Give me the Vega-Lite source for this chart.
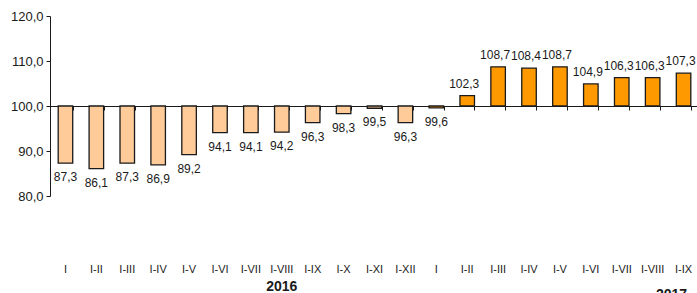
{
  "$schema": "https://vega.github.io/schema/vega-lite/v6.json",
  "width": 649,
  "height": 180,
  "autosize": {"type": "none"},
  "padding": {"left": 50, "top": 16, "right": 0, "bottom": 97},
  "background": "white",
  "config": {
    "view": {"stroke": null},
    "font": "Liberation Sans",
    "locale": {"number": {"decimal": ",", "thousands": ".", "grouping": [3], "currency": ["", " €"]}}
  },
  "data": {
    "values": [
      {"k": "2016 I", "year": "2016", "value": 87.3},
      {"k": "2016 I-II", "year": "2016", "value": 86.1},
      {"k": "2016 I-III", "year": "2016", "value": 87.3},
      {"k": "2016 I-IV", "year": "2016", "value": 86.9},
      {"k": "2016 I-V", "year": "2016", "value": 89.2},
      {"k": "2016 I-VI", "year": "2016", "value": 94.1},
      {"k": "2016 I-VII", "year": "2016", "value": 94.1},
      {"k": "2016 I-VIII", "year": "2016", "value": 94.2},
      {"k": "2016 I-IX", "year": "2016", "value": 96.3},
      {"k": "2016 I-X", "year": "2016", "value": 98.3},
      {"k": "2016 I-XI", "year": "2016", "value": 99.5},
      {"k": "2016 I-XII", "year": "2016", "value": 96.3},
      {"k": "2017 I", "year": "2017", "value": 99.6},
      {"k": "2017 I-II", "year": "2017", "value": 102.3},
      {"k": "2017 I-III", "year": "2017", "value": 108.7},
      {"k": "2017 I-IV", "year": "2017", "value": 108.4},
      {"k": "2017 I-V", "year": "2017", "value": 108.7},
      {"k": "2017 I-VI", "year": "2017", "value": 104.9},
      {"k": "2017 I-VII", "year": "2017", "value": 106.3},
      {"k": "2017 I-VIII", "year": "2017", "value": 106.3},
      {"k": "2017 I-IX", "year": "2017", "value": 107.3}
    ]
  },
  "resolve": {"axis": {"x": "independent"}},
  "layer": [
    {
      "mark": {"type": "bar", "stroke": "#1a1a1a", "strokeWidth": 1.3},
      "encoding": {
        "x": {
          "field": "k", "type": "nominal",
          "scale": {
            "domain": ["2016 I", "2016 I-II", "2016 I-III", "2016 I-IV", "2016 I-V", "2016 I-VI", "2016 I-VII", "2016 I-VIII", "2016 I-IX", "2016 I-X", "2016 I-XI", "2016 I-XII", "2017 I", "2017 I-II", "2017 I-III", "2017 I-IV", "2017 I-V", "2017 I-VI", "2017 I-VII", "2017 I-VIII", "2017 I-IX"],
            "paddingInner": 0.53, "paddingOuter": 0.265
          },
          "axis": {
            "title": null, "orient": "bottom", "domain": false, "ticks": false,
            "labelPadding": 67, "labelAngle": 0, "labelFontSize": 11, "labelColor": "#1a1a1a",
            "labelExpr": "split(datum.value, ' ')[1]"
          }
        },
        "y": {
          "field": "value", "type": "quantitative",
          "scale": {"domain": [80, 120], "zero": false, "nice": false},
          "axis": {
            "title": null, "grid": false, "values": [80, 90, 100, 110, 120], "labelOverlap": false,
            "format": ".1f", "domainColor": "#1a1a1a", "tickColor": "#1a1a1a", "tickSize": 4,
            "labelFontSize": 13, "labelColor": "#1a1a1a", "labelPadding": 3
          }
        },
        "y2": {"datum": 100},
        "color": {
          "field": "year", "type": "nominal",
          "scale": {"domain": ["2016", "2017"], "range": ["#FFCC99", "#FF9900"]},
          "legend": null
        }
      }
    },
    {
      "transform": [{"filter": "datum.value < 100"}],
      "mark": {"type": "text", "fontSize": 12, "color": "#1a1a1a", "dy": 14, "baseline": "middle"},
      "encoding": {
        "x": {
          "field": "k", "type": "nominal",
          "axis": {
            "title": null, "orient": "top", "offset": -90, "labels": false,
            "domainColor": "#1a1a1a", "tickColor": "#1a1a1a", "tickSize": -4, "tickBand": "extent"
          }
        },
        "y": {"field": "value", "type": "quantitative"},
        "text": {"field": "value", "type": "quantitative", "format": ".1f"}
      }
    },
    {
      "transform": [{"filter": "datum.value >= 100"}],
      "mark": {"type": "text", "fontSize": 12, "color": "#1a1a1a", "dy": -12, "dx": -3, "baseline": "middle"},
      "encoding": {
        "x": {"field": "k", "type": "nominal", "axis": null},
        "y": {"field": "value", "type": "quantitative"},
        "text": {"field": "value", "type": "quantitative", "format": ".1f"}
      }
    },
    {
      "data": {"values": [{"k": "2016 I-VIII", "label": "2016"}]},
      "mark": {"type": "text", "fontSize": 14, "fontWeight": "bold", "color": "#1a1a1a", "baseline": "middle"},
      "encoding": {
        "x": {"field": "k", "type": "nominal", "axis": null},
        "y": {"datum": 59.8},
        "text": {"field": "label"}
      }
    },
    {
      "data": {"values": [{"k": "2017 I-IX", "label": "2017"}]},
      "mark": {"type": "text", "fontSize": 14, "fontWeight": "bold", "color": "#1a1a1a", "baseline": "middle", "dx": -12},
      "encoding": {
        "x": {"field": "k", "type": "nominal", "axis": null},
        "y": {"datum": 58},
        "text": {"field": "label"}
      }
    }
  ]
}
